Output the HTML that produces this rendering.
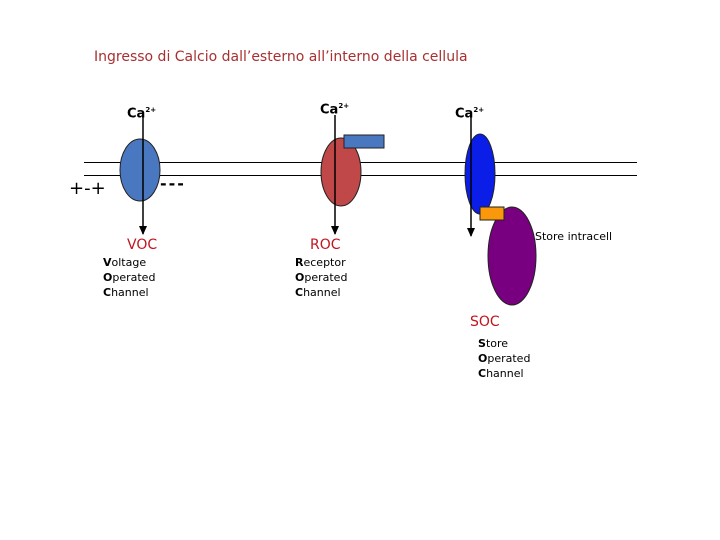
<!DOCTYPE html>
<html><head><style>
body{margin:0;width:720px;height:540px;background:#fff;overflow:hidden;position:relative;font-family:"DejaVu Sans","Liberation Sans",sans-serif}
.t{position:absolute;white-space:nowrap}
.red{color:#c0141e;font-size:14px}
.sm{font-size:11px;line-height:15px;color:#000}
</style></head><body>
<div class="t" style="left:94px;top:49px;font-size:14px;color:#a83030">Ingresso di Calcio dall’esterno all’interno della cellula</div>
<svg width="720" height="540" style="position:absolute;left:0;top:0">
<defs><marker id="a" markerWidth="10" markerHeight="8" refX="8" refY="4" orient="auto" markerUnits="userSpaceOnUse"><path d="M0,0 L9,4 L0,8z" fill="#000"/></marker></defs>
<line x1="84" y1="162.5" x2="637" y2="162.5" stroke="#000" stroke-width="1" shape-rendering="crispEdges"/>
<line x1="84" y1="175.5" x2="637" y2="175.5" stroke="#000" stroke-width="1" shape-rendering="crispEdges"/>
<ellipse cx="140" cy="170" rx="20" ry="31" fill="#4a78c0" stroke="#222"/>
<ellipse cx="341" cy="172" rx="20" ry="34" fill="#c04848" stroke="#222"/>
<rect x="344" y="135" width="40" height="13" fill="#4a78c0" stroke="#222"/>
<ellipse cx="480" cy="174" rx="15" ry="40" fill="#0a1ee8" stroke="#222"/>
<ellipse cx="512" cy="256" rx="24" ry="49" fill="#780080" stroke="#222"/>
<rect x="480" y="207" width="24" height="13" fill="#f8980a" stroke="#222"/>
<line x1="143" y1="115" x2="143" y2="234" stroke="#000" stroke-width="1.5" marker-end="url(#a)"/>
<line x1="335" y1="115" x2="335" y2="234" stroke="#000" stroke-width="1.5" marker-end="url(#a)"/>
<line x1="471" y1="117" x2="471" y2="236" stroke="#000" stroke-width="1.5" marker-end="url(#a)"/>
</svg>
<div class="t" style="left:127px;top:106px;font-size:13px;font-weight:bold">Ca<sup style="font-size:7px">2+</sup></div>
<div class="t" style="left:320px;top:102px;font-size:13px;font-weight:bold">Ca<sup style="font-size:7px">2+</sup></div>
<div class="t" style="left:455px;top:106px;font-size:13px;font-weight:bold">Ca<sup style="font-size:7px">2+</sup></div>
<div class="t" style="left:69px;top:178px;font-size:18px">+-+</div>
<div class="t" style="left:160px;top:174px;font-size:16px;font-weight:bold;letter-spacing:2px">---</div>
<div class="t red" style="left:127px;top:237px">VOC</div>
<div class="t sm" style="left:103px;top:255px"><b>V</b>oltage<br><b>O</b>perated<br><b>C</b>hannel</div>
<div class="t red" style="left:310px;top:237px">ROC</div>
<div class="t sm" style="left:295px;top:255px"><b>R</b>eceptor<br><b>O</b>perated<br><b>C</b>hannel</div>
<div class="t sm" style="left:535px;top:229px">Store intracell</div>
<div class="t red" style="left:470px;top:314px">SOC</div>
<div class="t sm" style="left:478px;top:336px"><b>S</b>tore<br><b>O</b>perated<br><b>C</b>hannel</div>
</body></html>
